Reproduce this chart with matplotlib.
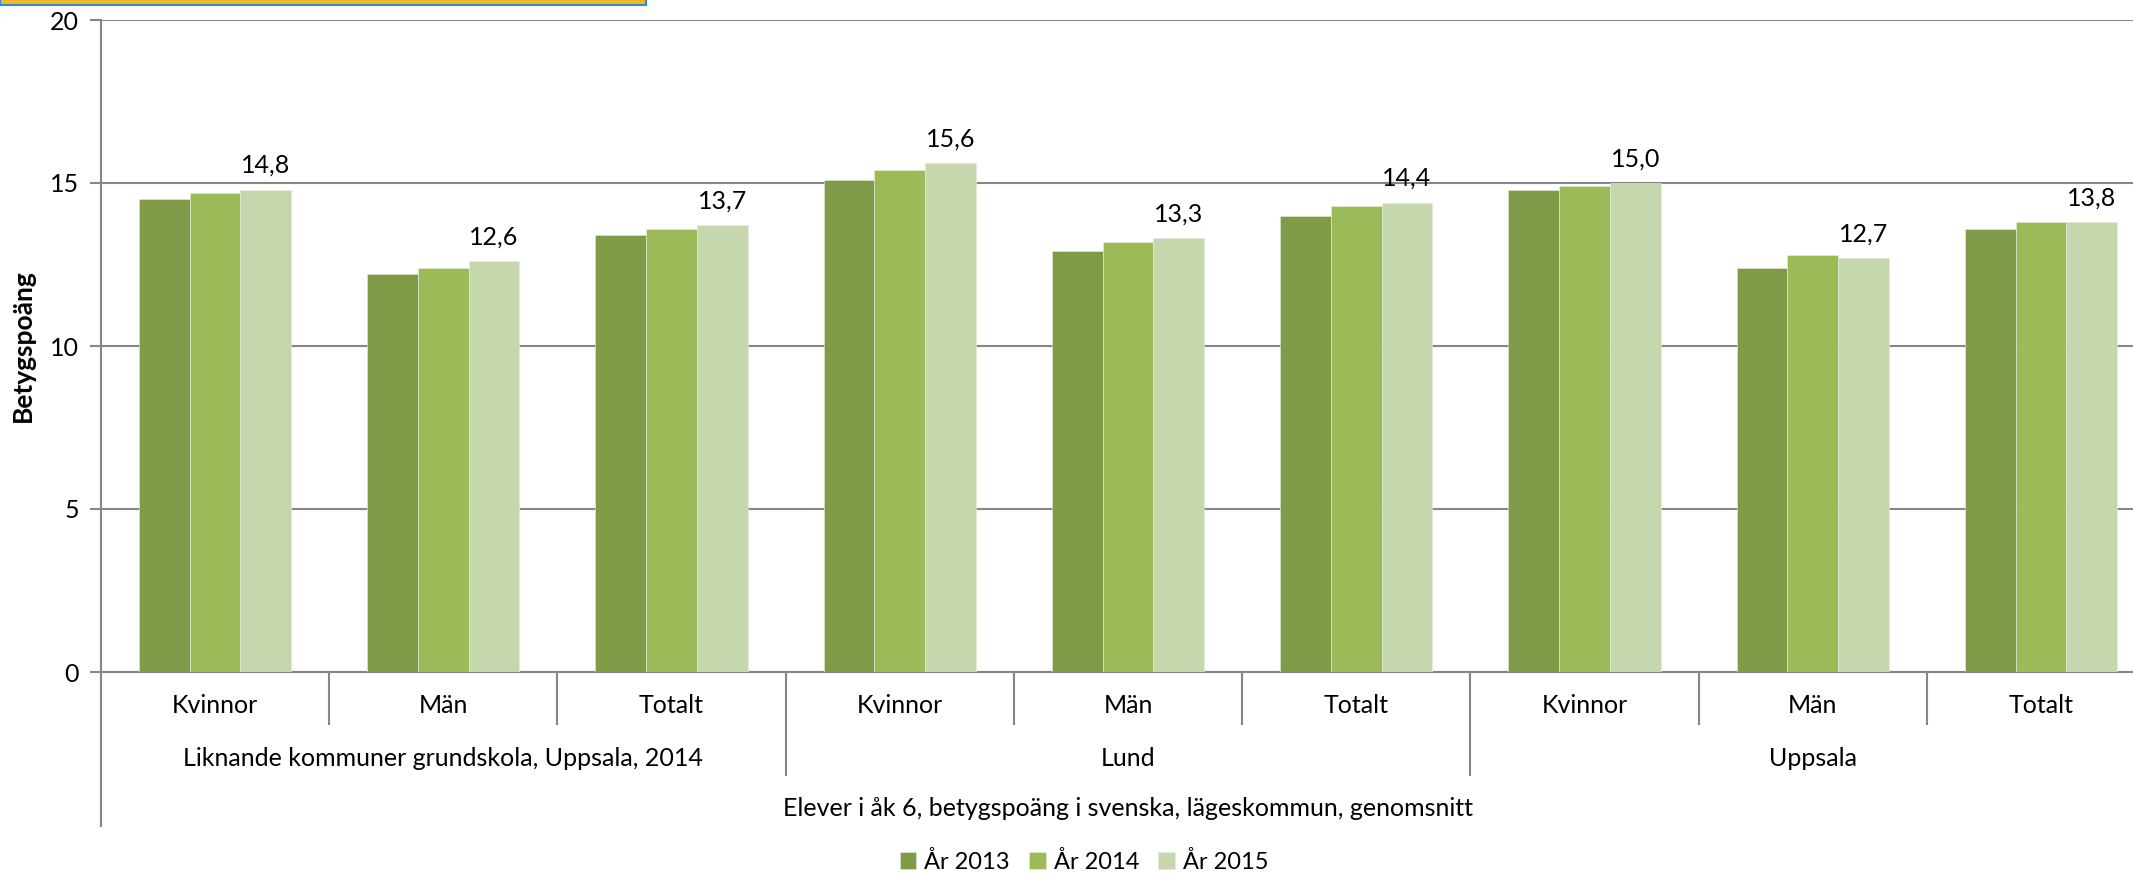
import matplotlib.pyplot as plt
import matplotlib.patches as mpatches
import numpy as np

plt.rcParams['font.family'] = ['Lato', 'DejaVu Sans']

categories = ['Kvinnor', 'Män', 'Totalt'] * 3
groups = ['Liknande kommuner grundskola, Uppsala, 2014', 'Lund', 'Uppsala']
series = ['År 2013', 'År 2014', 'År 2015']
y2013 = [14.5, 12.2, 13.4, 15.1, 12.9, 14.0, 14.8, 12.4, 13.6]
y2014 = [14.7, 12.4, 13.6, 15.4, 13.2, 14.3, 14.9, 12.8, 13.8]
y2015 = [14.8, 12.6, 13.7, 15.6, 13.3, 14.4, 15.0, 12.7, 13.8]
colors = ['#7F9B48', '#9BBB59', '#C6D7AD']

W, H = 2133, 875
fig = plt.figure(figsize=(W / 100, H / 100), dpi=100)
left, right, top, bottom = 101, 2155, 20, 672
ax = fig.add_axes([left / W, 1 - bottom / H, (right - left) / W, (bottom - top) / H])

x = np.arange(len(categories))
w = 1 / 4.5
for i, (vals, c, lab) in enumerate(zip([y2013, y2014, y2015], colors, series)):
    bars = ax.bar(x + (i - 1) * w, vals, w, color=c, label=lab, zorder=3,
                  edgecolor='#E6EEDA', linewidth=0.4)
    if i == 2:
        for b, v in zip(bars, vals):
            ax.annotate(f'{v:.1f}'.replace('.', ','), (b.get_x() + b.get_width() / 2, v),
                        xytext=(0, 9), textcoords='offset points',
                        ha='center', va='bottom', fontsize=18)

ax.set_xlim(-0.5, 8.5)
ax.set_ylim(0, 20)
ax.set_yticks([0, 5, 10, 15, 20])
ax.yaxis.grid(True, color='#868686', linewidth=1.5, zorder=0)
ax.tick_params(axis='y', length=8, width=1.5, color='#868686', labelsize=18, pad=8)
ax.set_xticks([])
for s in ['top', 'right']:
    ax.spines[s].set_visible(False)
for s in ['left', 'bottom']:
    ax.spines[s].set_color('#868686')
    ax.spines[s].set_linewidth(1.5)
ax.set_ylabel('Betygspoäng', fontsize=19, fontweight='bold')
ax.yaxis.set_label_coords(-0.032, 0.5)

# hierarchical x axis labels
tr = ax.get_xaxis_transform()
line_kw = dict(transform=tr, clip_on=False, color='#868686', linewidth=1.5)
for k in range(1, 9):
    end = -0.158 if k % 3 == 0 else -0.08
    ax.plot([k - 0.5, k - 0.5], [0, end], **line_kw)
ax.plot([-0.5, -0.5], [0, -0.236], **line_kw)
for xi, cat in zip(x, categories):
    ax.text(xi, -0.052, cat, transform=tr, ha='center', va='center', fontsize=18)
for g, name in enumerate(groups):
    ax.text(3 * g + 1, -0.132, name, transform=tr, ha='center', va='center', fontsize=18)
ax.text(4, -0.21, 'Elever i åk 6, betygspoäng i svenska, lägeskommun, genomsnitt',
        transform=tr, ha='center', va='center', fontsize=18)

fig.legend(loc='center', bbox_to_anchor=(1084 / W, 1 - 862 / H), ncol=3, frameon=False,
           fontsize=17, handlelength=0.7, handleheight=0.7, handletextpad=0.35,
           columnspacing=0.8)

# header box cut off at the top
fig.patches.append(mpatches.Rectangle((0, 1 - 5 / H), 646 / W, 6 / H,
                                      transform=fig.transFigure, facecolor='#F5B91E',
                                      edgecolor='#2E8BD6', linewidth=1.5))

fig.savefig('out.png', dpi=100)
